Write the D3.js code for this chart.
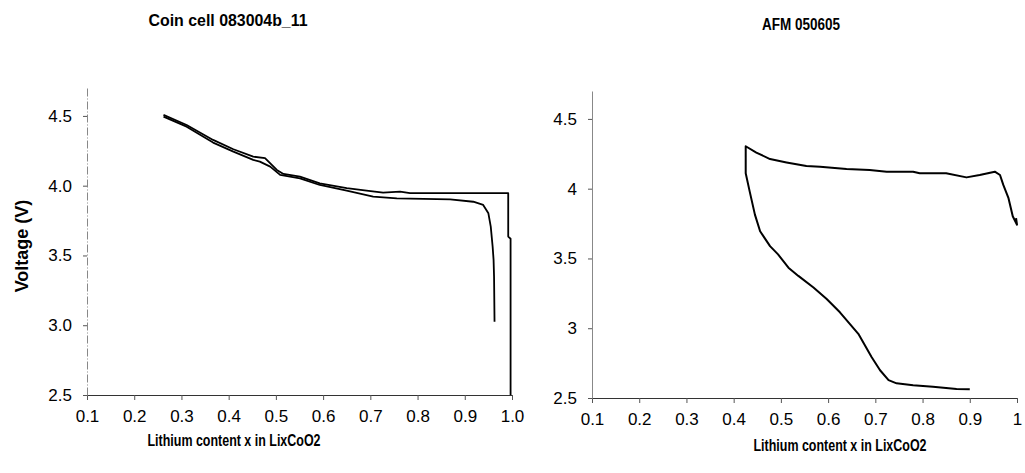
<!DOCTYPE html>
<html><head><meta charset="utf-8">
<script src="https://cdn.jsdelivr.net/npm/d3@7"></script>
<style>body{margin:0;background:#fff}svg{display:block}</style>
</head><body><svg id="c" width="1025" height="473"></svg>
<script>
// ---- data ----
const leftTitle = "Coin cell 083004b_11";
const rightTitle = "AFM 050605";
const xTitle = "Lithium content x in LixCoO2";
const yTitle = "Voltage (V)";
const xTicks = [0.1,0.2,0.3,0.4,0.5,0.6,0.7,0.8,0.9,1.0];
const yTicks = [2.5,3.0,3.5,4.0,4.5];

// Left chart: charge curve (upper, ends with vertical at x≈1)
const chargeX = [0.262,0.311,0.367,0.410,0.452,0.477,0.502,0.516,0.551,0.593,0.650,0.692,0.727,0.763,0.784,0.992,0.992,0.997,0.997];
const chargeV = [4.507,4.435,4.328,4.261,4.208,4.197,4.113,4.084,4.065,4.017,3.982,3.965,3.950,3.958,3.946,3.946,3.635,3.620,2.500];
// Left chart: discharge curve (lower)
const dischX = [0.262,0.311,0.367,0.410,0.452,0.466,0.488,0.509,0.551,0.593,0.650,0.706,0.756,0.869,0.918,0.939,0.950,0.955,0.959,0.961,0.962,0.963];
const dischV = [4.495,4.423,4.309,4.244,4.185,4.172,4.137,4.077,4.053,4.005,3.965,3.922,3.909,3.902,3.885,3.862,3.802,3.707,3.563,3.468,3.348,3.025];

// Right chart: single loop
const afmX = [0.900,0.872,0.822,0.780,0.745,0.728,0.710,0.692,0.664,0.625,0.597,0.569,0.537,0.516,0.494,0.477,0.456,0.445,0.434,0.4255,0.4255,0.448,0.477,0.512,0.554,0.583,0.639,0.688,0.724,0.780,0.794,0.850,0.893,0.921,0.953,0.964,0.971,0.982,0.991,1.000,0.998];
const afmV = [2.562,2.564,2.580,2.592,2.605,2.628,2.699,2.794,2.960,3.114,3.209,3.292,3.375,3.434,3.529,3.588,3.695,3.814,3.979,4.110,4.304,4.259,4.212,4.188,4.162,4.157,4.141,4.134,4.122,4.122,4.110,4.110,4.081,4.098,4.122,4.098,4.027,3.932,3.802,3.742,3.789];

const svg = d3.select("#c");
const FONT = "'Liberation Sans', Arial, sans-serif";

function panel(opts) {
  const x = d3.scaleLinear().domain([0.1, 1.0]).range([opts.x0, opts.x1]);
  const y = d3.scaleLinear().domain([2.5, 4.7]).range([opts.y0, opts.y1]);
  const g = svg.append("g");

  // axes
  const ax = g.append("g").attr("transform", `translate(0,${opts.y0})`)
    .call(d3.axisBottom(x).tickValues(xTicks).tickFormat(opts.xfmt).tickSize(5).tickSizeOuter(0).tickPadding(10));
  const ay = g.append("g").attr("transform", `translate(${opts.x0},0)`)
    .call(d3.axisLeft(y).tickValues(yTicks).tickFormat(opts.yfmt).tickSize(4).tickSizeOuter(0).tickPadding(11));
  [ax, ay].forEach(a => {
    a.selectAll("text").attr("font-family", FONT).attr("font-size", 17).attr("fill", "#000");
    a.selectAll(".tick line").attr("stroke", "#555");
  });
  ax.select(".domain").attr("stroke", "#333").attr("stroke-width", 1);
  ay.select(".domain").attr("stroke", "#888").attr("stroke-width", 1).attr("stroke-dasharray", opts.ydash);

  // lines
  const line = d3.line().x(d => x(d[0])).y(d => y(d[1]));
  opts.series.forEach(s => {
    g.append("path").datum(s.x.map((v, i) => [v, s.v[i]]))
      .attr("d", line).attr("fill", "none").attr("stroke", "#000")
      .attr("stroke-width", s.w).attr("stroke-linejoin", "round");
  });

  // titles
  g.append("text").attr("x", opts.tx).attr("y", opts.ty).attr("text-anchor", "middle")
    .attr("font-family", FONT).attr("font-weight", "bold").attr("font-size", 16)
    .attr("textLength", opts.tlen).attr("lengthAdjust", "spacingAndGlyphs").text(opts.title);
  g.append("text").attr("x", opts.xtx).attr("y", opts.xty).attr("text-anchor", "middle")
    .attr("font-family", FONT).attr("font-weight", "bold").attr("font-size", 17)
    .attr("textLength", 173).attr("lengthAdjust", "spacingAndGlyphs").text(xTitle);
  return {x, y};
}

panel({x0: 87, x1: 512, y0: 395, y1: 88, xfmt: d3.format(".1f"), yfmt: d3.format(".1f"),
  ydash: "8,2,1,2", title: leftTitle, tlen: 159, tx: 228, ty: 26, xtx: 234, xty: 446,
  series: [{x: chargeX, v: chargeV, w: 1.8}, {x: dischX, v: dischV, w: 1.8}]});

panel({x0: 592, x1: 1017, y0: 398, y1: 91, xfmt: d => d3.format("")(+d.toFixed(1)), yfmt: d => d3.format("")(+d.toFixed(1)),
  ydash: null, title: rightTitle, tlen: 78, tx: 801, ty: 30, xtx: 840, xty: 451,
  series: [{x: afmX, v: afmV, w: 2}]});

svg.append("text").attr("transform", "translate(28,246) rotate(-90)").attr("text-anchor", "middle")
  .attr("font-family", FONT).attr("font-weight", "bold").attr("font-size", 18).text(yTitle);
</script>
</body></html>
